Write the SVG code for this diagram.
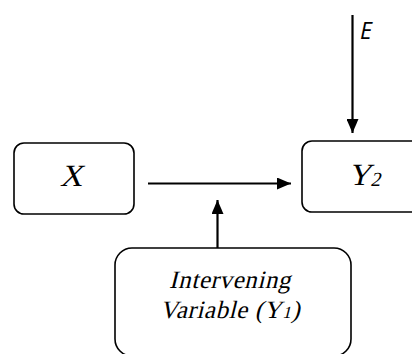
<svg xmlns="http://www.w3.org/2000/svg" width="412" height="354" viewBox="0 0 412 354">
<defs>
<style>
.box{fill:#fff;stroke:#000;stroke-width:1.6}
.ln{stroke:#000;stroke-width:2.2;fill:none}
.tm{font-family:"Liberation Serif","Times New Roman",serif;fill:#000}
.sn{font-family:"Open Sans","Liberation Sans",sans-serif;font-style:italic;fill:#000}
</style>
<marker id="ah" viewBox="0 0 14 12" refX="14" refY="6" markerWidth="14" markerHeight="12" markerUnits="userSpaceOnUse" orient="auto">
<path d="M0,0 L14,6 L0,12 Z" fill="#000"/>
</marker>
</defs>
<rect width="412" height="354" fill="#fff"/>
<g id="node-x">
<rect class="box" x="14" y="143" width="120" height="71" rx="10"/>
<text class="tm" transform="translate(71,186) skewX(-14)" font-size="31" text-anchor="middle">X</text>
</g>
<g id="node-y2">
<rect class="box" x="302" y="141" width="130" height="71" rx="10"/>
<text class="tm" transform="translate(348,185) skewX(-14)" font-size="31">Y<tspan font-size="20" dy="1">2</tspan></text>
</g>
<g id="node-y1">
<rect class="box" x="115" y="248" width="236" height="108" rx="17"/>
<text class="tm" transform="translate(230,288) skewX(-14)" font-size="25" text-anchor="middle" letter-spacing="0.6">Intervening</text>
<text class="tm" transform="translate(230,318) skewX(-14)" font-size="25" text-anchor="middle" letter-spacing="0.6">Variable (Y<tspan font-size="17">1</tspan>)</text>
</g>
<g id="connectors">
<line class="ln" x1="148" y1="183.5" x2="291" y2="183.5" marker-end="url(#ah)"/>
<line class="ln" x1="217.5" y1="248" x2="217.5" y2="200" marker-end="url(#ah)"/>
<line class="ln" x1="352.5" y1="15" x2="352.5" y2="133" marker-end="url(#ah)"/>
</g>
<text class="sn" x="360" y="39" font-size="23">E</text>
</svg>
